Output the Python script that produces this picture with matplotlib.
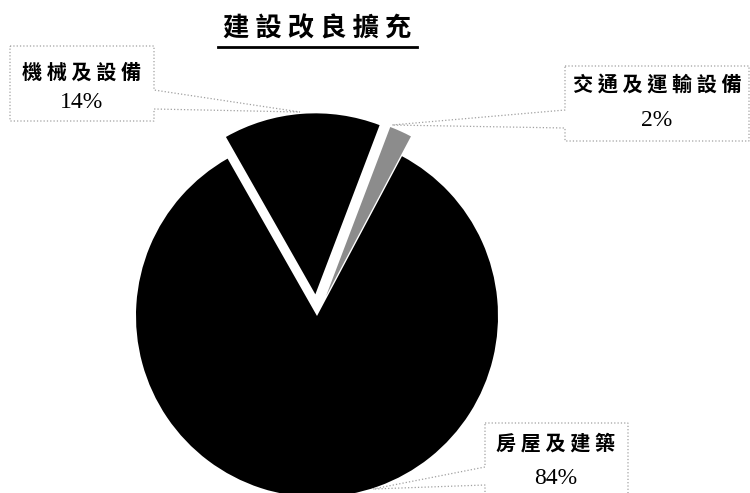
import matplotlib.pyplot as plt
from matplotlib.patches import Polygon

plt.rcParams['font.family'] = ['Noto Sans CJK TC', 'DejaVu Sans']

# datos del grafico (porcentajes)
categorias = ['交通及運輸設備', '機械及設備', '房屋及建築']
valores = [2, 14, 84]
colores = ['#8c8c8c', '#000000', '#000000']

titulo = '建設改良擴充'

W, H = 750, 493
radio = 181
# separacion en pixeles (explode de matplotlib no escala con el radio)
separacion = [0.12 * radio, 0.12 * radio, 0.0]

fig = plt.figure(figsize=(7.5, 4.93), dpi=100)
ax = fig.add_axes([0, 0, 1, 1])

# pie en coordenadas de pixel (y hacia arriba)
ax.pie(valores, colors=colores, explode=separacion, startangle=62,
       counterclock=True, center=(317, H - 316), radius=radio,
       wedgeprops=dict(linewidth=0), frame=True)

ax.set_xlim(0, W)
ax.set_ylim(0, H)
ax.set_aspect('equal')
ax.axis('off')


def y(v):
    return H - v


# cajas tipo callout: (poligono, posicion texto, posicion porcentaje)
cajas = [
    ([(10, 46), (154, 46), (154, 90), (300, 112), (154, 109), (154, 121), (10, 121)],
     (82, 72), (82, 103)),
    ([(565, 66), (749, 66), (749, 141), (565, 141), (565, 128), (392, 125), (565, 110)],
     (657, 85), (657, 120)),
    ([(485, 423), (628, 423), (628, 500), (485, 500), (485, 485), (373, 489), (485, 467)],
     (556, 443), (556, 479)),
]

for i, (pts, pos_txt, pos_pct) in enumerate(cajas):
    idx = [1, 0, 2][i]
    poly = Polygon([(px, y(py)) for px, py in pts], closed=True,
                   facecolor='white', edgecolor='#a0a0a0', linestyle=':',
                   linewidth=0.9, zorder=3)
    ax.add_patch(poly)
    ax.text(pos_txt[0], y(pos_txt[1]), ' '.join(categorias[idx]), fontsize=14.5,
            fontweight='bold', ha='center', va='center', color='black', zorder=4)
    ax.text(pos_pct[0], y(pos_pct[1]), f'{valores[idx]}%', fontsize=17,
            family='Liberation Serif', ha='center', va='center', color='black', zorder=4)

# titulo subrayado
ax.text(317, y(29), ' '.join(titulo), fontsize=19, fontweight='bold',
        ha='center', va='center', color='black')
ax.plot([218, 417], [y(47), y(47)], color='black', linewidth=2)

fig.savefig('out.png', dpi=100)
